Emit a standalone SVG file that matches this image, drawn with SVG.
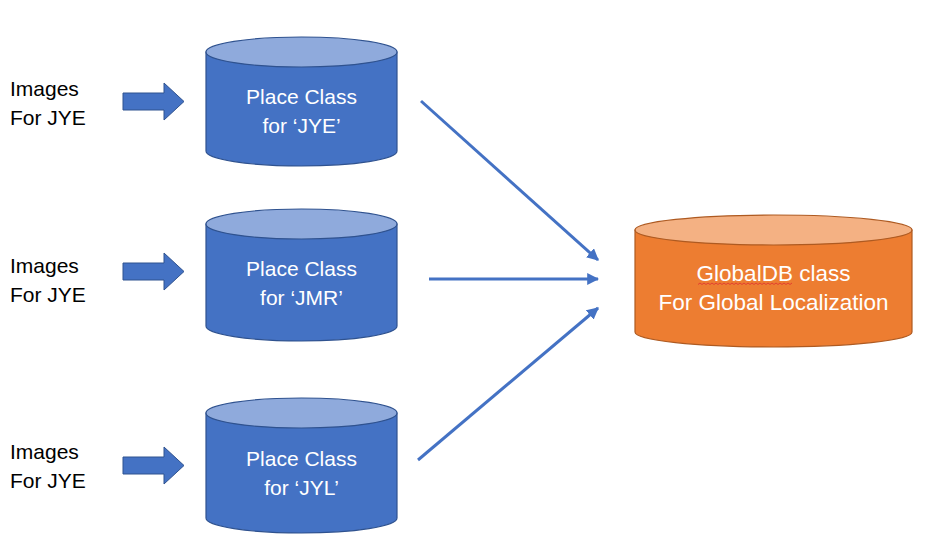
<svg xmlns="http://www.w3.org/2000/svg" width="927" height="552" viewBox="0 0 927 552">
<defs>
<style>
.lbl{font-family:"Liberation Sans",Arial,sans-serif;font-size:21px;fill:#000}
.wt{font-family:"Liberation Sans",Arial,sans-serif;font-size:21px;fill:#fff;text-anchor:middle}
.ot{font-size:22.5px}
.body{fill:#4472C4;stroke:#2F528F;stroke-width:1.2}
.top{fill:#8FAADC;stroke:#2F528F;stroke-width:1.2}
.obody{fill:#ED7D31;stroke:#AE5A21;stroke-width:1.2}
.otop{fill:#F4B183;stroke:#AE5A21;stroke-width:1.2}
.barrow{fill:#4472C4;stroke:#2F528F;stroke-width:1}
.conn{stroke:#4472C4;stroke-width:3;fill:none;marker-end:url(#ah)}
</style>
<marker id="ah" viewBox="0 0 10 10" refX="9" refY="5" markerWidth="4" markerHeight="4" orient="auto" markerUnits="strokeWidth">
<path d="M0,0 L10,5 L0,10 z" fill="#4472C4"/>
</marker>
</defs>
<rect width="927" height="552" fill="#fff"/>

<g id="input1">
<text class="lbl" x="10" y="96">Images</text>
<text class="lbl" x="10" y="125">For JYE</text>
<path class="barrow" d="M123,93 H164 V83 L184,101.5 L164,120 V110 H123 Z"/>
</g>
<g id="input2">
<text class="lbl" x="10" y="273">Images</text>
<text class="lbl" x="10" y="302">For JYE</text>
<path class="barrow" d="M123,263 H164 V253 L184,271.5 L164,290 V280 H123 Z"/>
</g>
<g id="input3">
<text class="lbl" x="10" y="459">Images</text>
<text class="lbl" x="10" y="488">For JYE</text>
<path class="barrow" d="M123,457 H164 V447 L184,465.5 L164,484 V474 H123 Z"/>
</g>

<g id="place1">
<path class="body" d="M206,52 V151 A95.5,15 0 0 0 397,151 V52 Z"/>
<ellipse class="top" cx="301.5" cy="52" rx="95.5" ry="15"/>
<text class="wt" x="301.5" y="104">Place Class</text>
<text class="wt" x="301.5" y="133">for ‘JYE’</text>
</g>
<g id="place2">
<path class="body" d="M206,224 V326 A95.5,15 0 0 0 397,326 V224 Z"/>
<ellipse class="top" cx="301.5" cy="224" rx="95.5" ry="15"/>
<text class="wt" x="301.5" y="276">Place Class</text>
<text class="wt" x="301.5" y="305">for ‘JMR’</text>
</g>
<g id="place3">
<path class="body" d="M206,413 V518 A95.5,15 0 0 0 397,518 V413 Z"/>
<ellipse class="top" cx="301.5" cy="413" rx="95.5" ry="15"/>
<text class="wt" x="301.5" y="466">Place Class</text>
<text class="wt" x="301.5" y="495">for ‘JYL’</text>
</g>

<g id="globaldb">
<path class="obody" d="M635,230 V332 A138.5,15 0 0 0 912,332 V230 Z"/>
<ellipse class="otop" cx="773.5" cy="230" rx="138.5" ry="15"/>
<text class="wt ot" x="773.5" y="281">GlobalDB class</text>
<text class="wt ot" x="773.5" y="310">For Global Localization</text>
<path d="M698,284.5 l2,-1.5 l2,1.5 l2,-1.5 l2,1.5 l2,-1.5 l2,1.5 l2,-1.5 l2,1.5 l2,-1.5 l2,1.5 l2,-1.5 l2,1.5 l2,-1.5 l2,1.5 l2,-1.5 l2,1.5 l2,-1.5 l2,1.5 l2,-1.5 l2,1.5 l2,-1.5 l2,1.5 l2,-1.5 l2,1.5 l2,-1.5 l2,1.5 l2,-1.5 l2,1.5 l2,-1.5 l2,1.5 l2,-1.5 l2,1.5 l2,-1.5 l2,1.5 l2,-1.5 l2,1.5 l2,-1.5 l2,1.5 l2,-1.5 l2,1.5 l2,-1.5 l2,1.5 l2,-1.5 l2,1.5 l2,-1.5 l2,1.5 l2,-1.5" fill="none" stroke="#E03030" stroke-width="0.8"/>
</g>

<g id="connectors">
<line class="conn" x1="421" y1="101" x2="598" y2="260"/>
<line class="conn" x1="429" y1="279" x2="598" y2="279"/>
<line class="conn" x1="418" y1="460" x2="598" y2="308"/>
</g>
</svg>
